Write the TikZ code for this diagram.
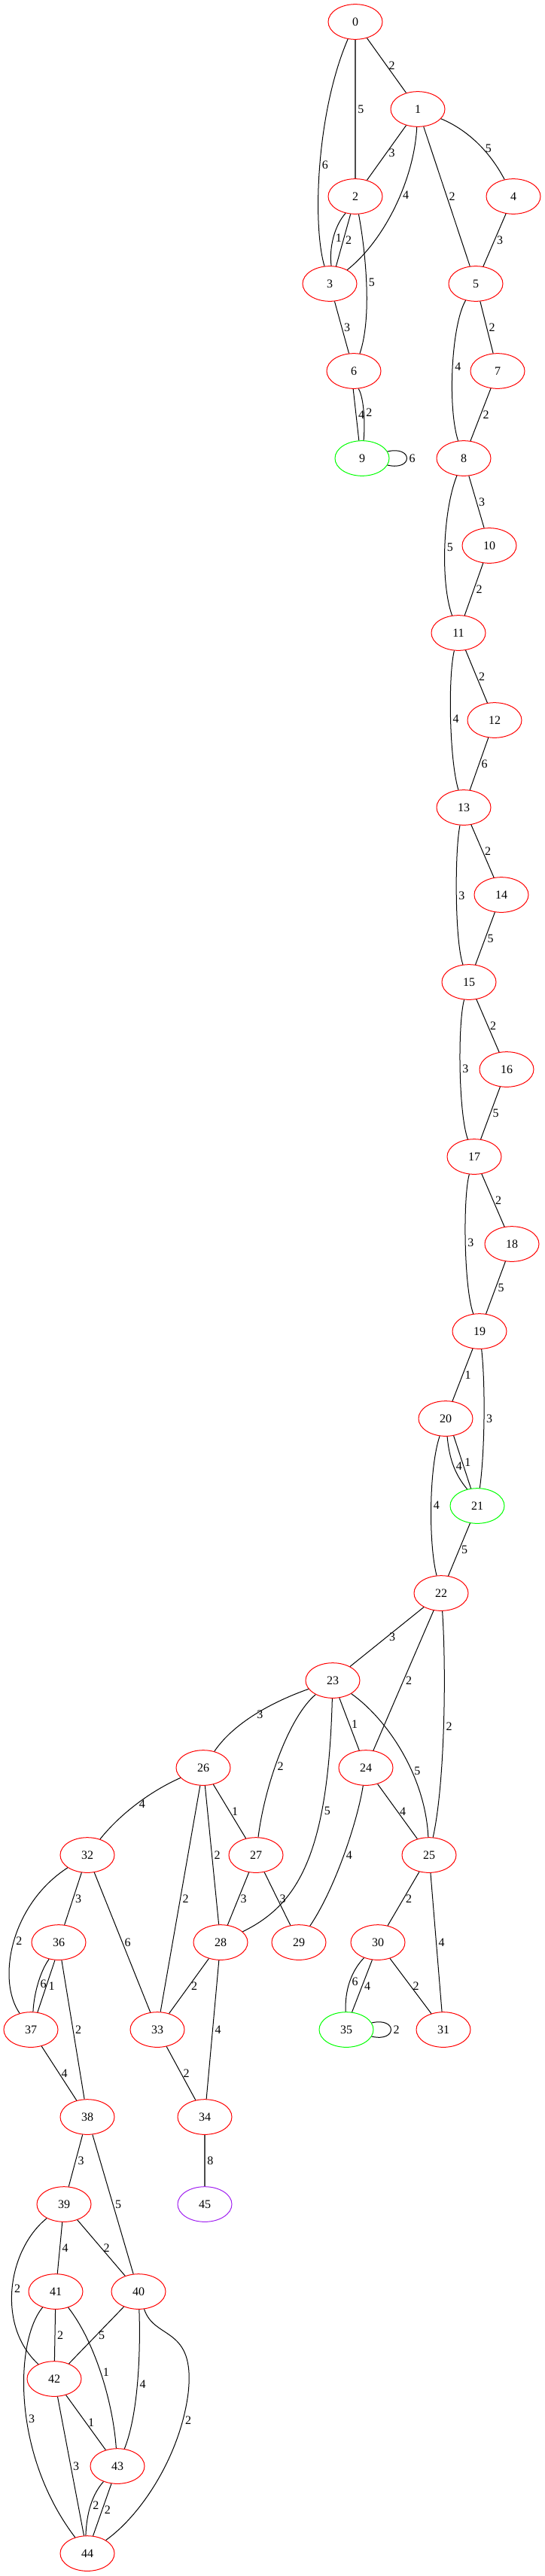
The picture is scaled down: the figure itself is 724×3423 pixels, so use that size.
\documentclass[tikz,border=0pt]{standalone}
\usepackage{fontspec}
\setmainfont{Liberation Serif}
\usepackage{tikz}
\usetikzlibrary{shapes.geometric}
\definecolor{vpurple}{HTML}{A020F0}

\begin{document}
\begin{tikzpicture}[
    x=0.75pt, y=-0.75pt,
    vertex/.style={
        draw=red,
        ellipse,
        line width=0.75pt,
        minimum width=54pt,
        minimum height=35pt,
        inner sep=0pt,
        font=\fontsize{12}{14}\selectfont
    },
    marked/.style={vertex, draw=green},
    terminal/.style={vertex, draw=vpurple},
    link/.style={line width=0.75pt},
    heavy/.style={line width=1.2pt, draw=black!70},
    weight/.style={right, inner sep=2pt, font=\fontsize{12}{14}\selectfont}
]
\useasboundingbox (0,0) rectangle (724,3423);

\node[vertex] (v0) at (472,29) {0};
\node[vertex] (v1) at (555,145) {1};
\node[vertex] (v2) at (472,261) {2};
\node[vertex] (v4) at (682,261) {4};
\node[vertex] (v3) at (438,377) {3};
\node[vertex] (v5) at (632,377) {5};
\node[vertex] (v6) at (470,493) {6};
\node[vertex] (v7) at (661,493) {7};
\node[marked] (v9) at (481,609) {9};
\node[vertex] (v8) at (616,609) {8};
\node[vertex] (v10) at (650,725) {10};
\node[vertex] (v11) at (609,841) {11};
\node[vertex] (v12) at (657,957) {12};
\node[vertex] (v13) at (616,1073) {13};
\node[vertex] (v14) at (666,1189) {14};
\node[vertex] (v15) at (623,1305) {15};
\node[vertex] (v16) at (673,1421) {16};
\node[vertex] (v17) at (630,1537) {17};
\node[vertex] (v18) at (680,1653) {18};
\node[vertex] (v19) at (637,1769) {19};
\node[vertex] (v20) at (592,1885) {20};
\node[marked] (v21) at (634,2001) {21};
\node[vertex] (v22) at (586,2117) {22};
\node[vertex] (v23) at (442,2233) {23};
\node[vertex] (v26) at (270,2349) {26};
\node[vertex] (v24) at (486,2349) {24};
\node[vertex] (v32) at (116,2465) {32};
\node[vertex] (v27) at (340,2465) {27};
\node[vertex] (v25) at (570,2465) {25};
\node[vertex] (v36) at (78,2581) {36};
\node[vertex] (v28) at (293,2581) {28};
\node[vertex] (v29) at (397,2581) {29};
\node[vertex] (v30) at (502,2581) {30};
\node[vertex] (v37) at (41,2697) {37};
\node[vertex] (v33) at (209,2697) {33};
\node[marked] (v35) at (460,2697) {35};
\node[vertex] (v31) at (589,2697) {31};
\node[vertex] (v38) at (116,2813) {38};
\node[vertex] (v34) at (272,2813) {34};
\node[vertex] (v39) at (85,2929) {39};
\node[terminal] (v45) at (272,2929) {45};
\node[vertex] (v41) at (74,3045) {41};
\node[vertex] (v40) at (184,3045) {40};
\node[vertex] (v42) at (72,3161) {42};
\node[vertex] (v43) at (156,3277) {43};
\node[vertex] (v44) at (116,3393) {44};

\draw[link] (v0) -- node[weight] {2} (v1);
\draw[heavy] (v0) -- node[weight] {5} (v2);
\draw[link] (v0) .. controls (420,150) and (415,300) .. node[weight] {6} (v3);
\draw[link] (v1) -- node[weight] {3} (v2);
\draw[link] (v1) .. controls (550,240) and (510,320) .. node[weight, pos=0.42] {4} (v3);
\draw[link] (v1) -- node[weight] {2} (v5);
\draw[link] (v1) .. controls (620,172) and (650,200) .. node[weight, pos=0.6] {5} (v4);
\draw[link] (v2.-120) .. controls (444,300) and (437,330) .. node[weight] {1} (v3.85);
\draw[link] (v2.-105) -- node[weight] {2} (v3.70);
\draw[link] (v2) .. controls (485,330) and (495,420) .. node[weight] {5} (v6);
\draw[link] (v4) -- node[weight] {3} (v5);
\draw[link] (v3) -- node[weight] {3} (v6);
\draw[link] (v5) .. controls (600,430) and (594,540) .. node[weight] {4} (v8);
\draw[link] (v5) -- node[weight] {2} (v7);
\draw[link] (v6.-92) -- node[weight] {4} (v9.100);
\draw[link] (v6.-75) .. controls (484,530) and (485,565) .. node[weight] {2} (v9.85);
\draw[link] (v9.15) .. controls (549,592) and (549,626) .. node[weight] {6} (v9.-15);
\draw[link] (v7) -- node[weight] {2} (v8);
\draw[link] (v8) -- node[weight] {3} (v10);
\draw[link] (v8) .. controls (588,680) and (585,775) .. node[weight] {5} (v11);
\draw[link] (v10) -- node[weight] {2} (v11);
\draw[link] (v11) -- node[weight] {2} (v12);
\draw[link] (v11) .. controls (595,900) and (597,1010) .. node[weight] {4} (v13);
\draw[link] (v12) -- node[weight] {6} (v13);
\draw[link] (v13) -- node[weight] {2} (v14);
\draw[link] (v13) .. controls (604,1130) and (604,1250) .. node[weight] {3} (v15);
\draw[link] (v14) -- node[weight] {5} (v15);
\draw[link] (v15) -- node[weight] {2} (v16);
\draw[link] (v15) .. controls (608,1360) and (609,1480) .. node[weight] {3} (v17);
\draw[link] (v16) -- node[weight] {5} (v17);
\draw[link] (v17) -- node[weight] {2} (v18);
\draw[link] (v17) .. controls (615,1590) and (616,1710) .. node[weight] {3} (v19);
\draw[link] (v18) -- node[weight] {5} (v19);
\draw[link] (v19) -- node[weight] {1} (v20);
\draw[link] (v19) .. controls (645,1840) and (644,1930) .. node[weight] {3} (v21);
\draw[link] (v20.-85) .. controls (597,1940) and (605,1960) .. node[weight] {4} (v21.121);
\draw[link] (v20.-65) -- node[weight] {1} (v21.110);
\draw[link] (v20) .. controls (570,1950) and (569,2050) .. node[weight] {4} (v22);
\draw[link] (v21) -- node[weight] {5} (v22);
\draw[link] (v22) -- node[weight] {3} (v23);
\draw[link] (v22) -- node[weight] {2} (v24);
\draw[link] (v22) .. controls (593,2220) and (591,2370) .. node[weight] {2} (v25);
\draw[link] (v23) .. controls (360,2262) and (310,2290) .. node[weight] {3} (v26);
\draw[link] (v23) .. controls (385,2280) and (352,2370) .. node[weight, pos=0.58] {2} (v27);
\draw[link] (v23) .. controls (436,2460) and (398,2530) .. node[weight, pos=0.3] {5} (v28);
\draw[link] (v23) -- node[weight] {1} (v24);
\draw[link] (v23) .. controls (515,2285) and (565,2360) .. node[weight, pos=0.62] {5} (v25);
\draw[link] (v24) -- node[weight] {4} (v25);
\draw[link] (v24) .. controls (475,2420) and (445,2510) .. node[weight] {4} (v29);
\draw[link] (v26) .. controls (200,2380) and (160,2410) .. node[weight] {4} (v32);
\draw[link] (v26) -- node[weight] {2} (v33);
\draw[link] (v26) -- node[weight] {2} (v28);
\draw[link] (v26) -- node[weight] {1} (v27);
\draw[link] (v27) -- node[weight] {3} (v28);
\draw[link] (v27) -- node[weight] {3} (v29);
\draw[link] (v25) -- node[weight] {2} (v30);
\draw[link] (v25) -- node[weight] {4} (v31);
\draw[link] (v30.-132) .. controls (466,2620) and (458,2645) .. node[weight] {6} (v35.92);
\draw[link] (v30.-108) -- node[weight] {4} (v35.72);
\draw[link] (v30) -- node[weight] {2} (v31);
\draw[link] (v35.15) .. controls (528,2680) and (528,2714) .. node[weight] {2} (v35.-15);
\draw[link] (v32) .. controls (15,2530) and (-5,2630) .. node[weight] {2} (v37);
\draw[link] (v32) -- node[weight] {3} (v36);
\draw[link] (v32) -- node[weight] {6} (v33);
\draw[link] (v36.-120) .. controls (53,2620) and (45,2650) .. node[weight] {6} (v37.83);
\draw[link] (v36.-102) -- node[weight] {1} (v37.69);
\draw[link] (v36) -- node[weight] {2} (v38);
\draw[link] (v37) -- node[weight] {4} (v38);
\draw[link] (v28) -- node[weight] {2} (v33);
\draw[link] (v28) -- node[weight] {4} (v34);
\draw[link] (v33) -- node[weight] {2} (v34);
\draw[heavy] (v34) -- node[weight] {8} (v45);
\draw[link] (v38) -- node[weight] {3} (v39);
\draw[link] (v38) -- node[weight] {5} (v40);
\draw[link] (v39) .. controls (10,2990) and (-5,3090) .. node[weight] {2} (v42);
\draw[link] (v39) -- node[weight] {4} (v41);
\draw[link] (v39) -- node[weight] {2} (v40);
\draw[link] (v41) -- node[weight] {2} (v42);
\draw[link] (v40) -- node[weight] {5} (v42);
\draw[link] (v41) .. controls (125,3110) and (150,3190) .. node[weight] {1} (v43);
\draw[link] (v40) .. controls (187,3130) and (183,3210) .. node[weight] {4} (v43);
\draw[link] (v40) .. controls (205,3110) and (260,3090) .. (250,3180)
    .. controls (240,3260) and (190,3340) .. node[weight, pos=0.15] {2} (v44);
\draw[link] (v41) .. controls (20,3110) and (15,3260) .. node[weight, pos=0.56] {3} (v44);
\draw[link] (v42) -- node[weight] {1} (v43);
\draw[link] (v42) -- node[weight] {3} (v44);
\draw[link] (v43.-132) .. controls (122,3315) and (115,3340) .. node[weight] {2} (v44.95);
\draw[link] (v43.-109) -- node[weight] {2} (v44.72);

\end{tikzpicture}
\end{document}
